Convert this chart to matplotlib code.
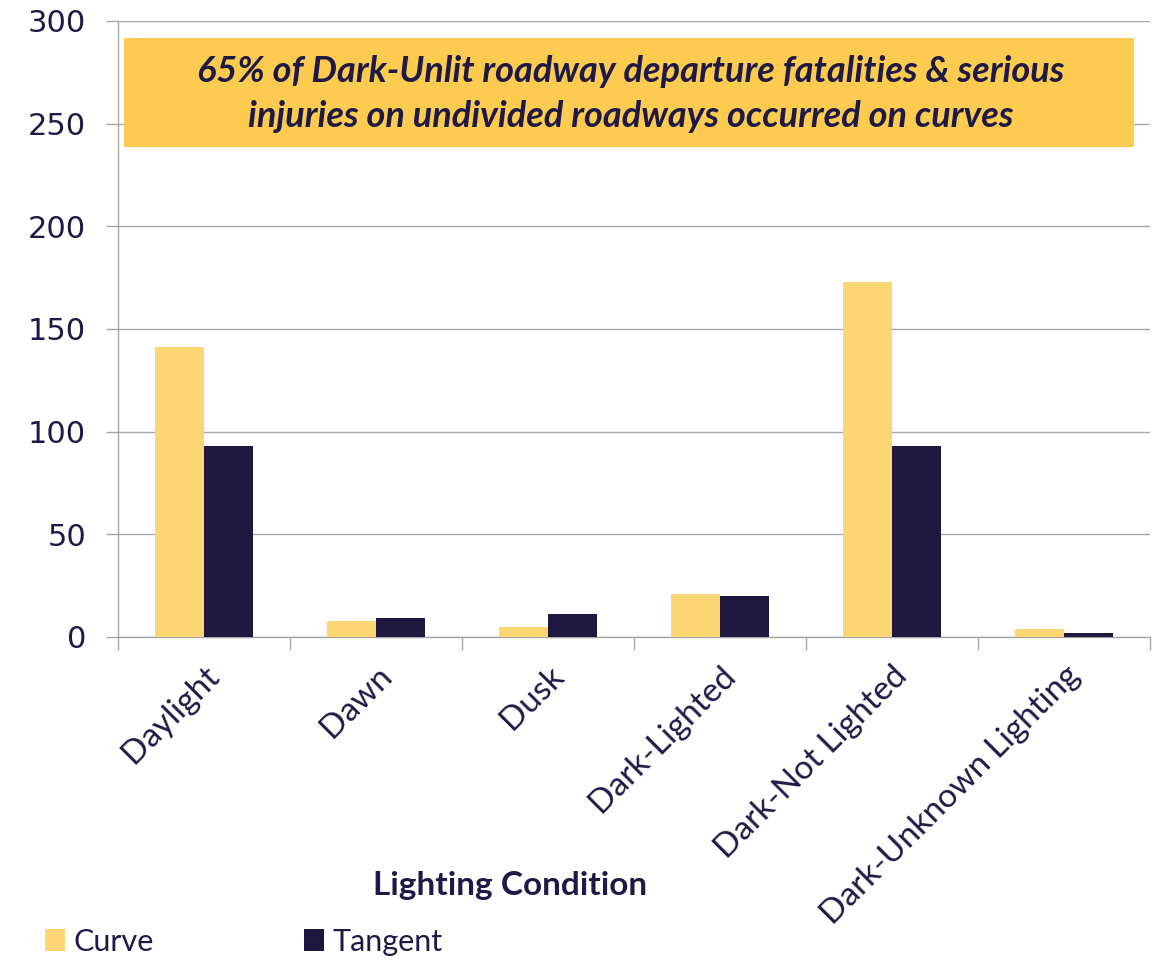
import matplotlib
matplotlib.use("Agg")
import matplotlib.pyplot as plt
from matplotlib.patches import Rectangle
import numpy as np

# data
conditions = ["Daylight", "Dawn", "Dusk", "Dark-Lighted", "Dark-Not Lighted", "Dark-Unknown Lighting"]
curve = [141, 8, 5, 21, 173, 4]
tangent = [93, 9, 11, 20, 93, 2]
y_ticks = [0, 50, 100, 150, 200, 250, 300]

note = "65% of Dark-Unlit roadway departure fatalities & serious\ninjuries on undivided roadways occurred on curves"

curve_color = "#FDD673"
tangent_color = "#1E1840"
text_color = "#1E1A45"
grid_color = "#A6A6A6"
box_color = "#FDCB50"
font = ["Lato", "DejaVu Sans"]

fig = plt.figure(figsize=(11.53, 9.6), dpi=100)
ax = fig.add_axes([0.1023, 0.3365, 0.8951, 0.6417])

x = np.arange(len(conditions))
w = 0.285
ax.bar(x - w / 2, curve, w, color=curve_color, label="Curve", zorder=3)
ax.bar(x + w / 2, tangent, w, color=tangent_color, label="Tangent", zorder=3)

ax.set_xlim(-0.5, len(conditions) - 0.5)
ax.set_ylim(0, 300)

# y axis
ax.set_yticks(y_ticks)
ax.set_yticklabels([str(v) for v in y_ticks], fontsize=22, color=text_color, family="DejaVu Sans")
ax.yaxis.grid(True, color=grid_color, linewidth=1, zorder=0)
ax.tick_params(axis="y", length=9, width=1, color=grid_color, pad=14)

# x axis: ticks on category boundaries, labels at centers
ax.set_xticks(np.arange(-0.5, len(conditions), 1.0))
ax.set_xticklabels([])
ax.tick_params(axis="x", length=9, width=1, color=grid_color)
ax.set_xticks(x, minor=True)
ax.set_xticklabels(conditions, minor=True, rotation=45, ha="right", va="top",
                   rotation_mode="anchor", fontsize=24, color=text_color, family=font)
ax.tick_params(axis="x", which="minor", length=0, pad=17)

for s in ["top", "right"]:
    ax.spines[s].set_visible(False)
for s in ["left", "bottom"]:
    ax.spines[s].set_color(grid_color)
    ax.spines[s].set_linewidth(1)

# annotation box
ax.add_patch(Rectangle((0.0058, 0.7955), 0.9787, 0.1769, transform=ax.transAxes,
                       facecolor=box_color, edgecolor="none", zorder=4))
ax.text(0.497, 0.8815, note, transform=ax.transAxes, ha="center", va="center",
        fontsize=26, fontweight="bold", fontstyle="italic", color=text_color,
        family=font, linespacing=1.45, zorder=5)

fig.text(0.442, 0.078, "Lighting Condition", ha="center", va="center",
         fontsize=24, fontweight="bold", color=text_color, family=font)

leg = fig.legend(loc="lower left", bbox_to_anchor=(0.015, -0.024), ncol=2, frameon=False,
                 handlelength=0.65, handleheight=0.7, handletextpad=0.3,
                 columnspacing=4.9, prop={"family": font, "size": 22})
for t in leg.get_texts():
    t.set_color(text_color)

fig.savefig("out.png", dpi=100)
